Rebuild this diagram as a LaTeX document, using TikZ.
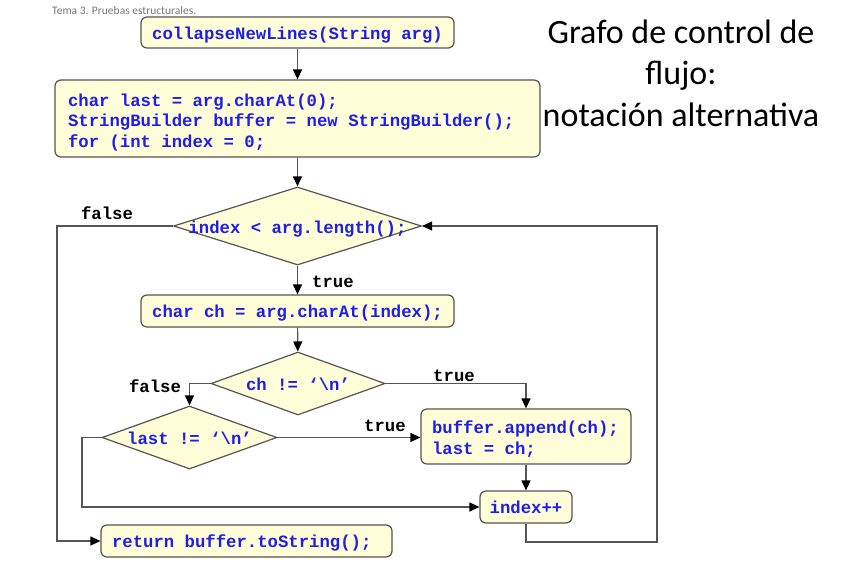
\documentclass[tikz,border=0pt]{standalone}
\usepackage{fontspec}
\setmonofont{Liberation Mono}
\newfontfamily\titlefont{Carlito}
\usetikzlibrary{shapes.geometric,arrows.meta}
\definecolor{codeblue}{RGB}{30,30,235}
\definecolor{boxfill}{RGB}{255,254,216}
\definecolor{edgegray}{RGB}{85,85,85}
\definecolor{hdrgray}{RGB}{120,120,120}
\newcommand{\codefont}{\ttfamily\bfseries\fontsize{17.3}{20.5}\selectfont}
\newcommand{\fixsp}{\spaceskip=0.6em\relax\xspaceskip=0.6em\relax}
\begin{document}
\begin{tikzpicture}[x=1pt,y=-1pt,
  box/.style={draw=edgegray, line width=1.2pt, fill=boxfill, rounded corners=6pt,
    font=\codefont, text=codeblue, inner sep=0pt},
  onebox/.style={box, text height=13.5pt, text depth=0pt},
  dia/.style={diamond, draw=edgegray, line width=1.2pt, fill=boxfill, inner sep=0pt,
    font=\codefont, text=codeblue, text height=14pt, text depth=0pt},
  lab/.style={font=\codefont, text=black, anchor=base, inner sep=0pt},
  ln/.style={draw=edgegray, line width=1.2pt},
  arr/.style={ln, -{Triangle[length=10pt,width=9pt,color=black]}}]
\useasboundingbox (0,0) rectangle (847,581);
\fill[white] (0,0) rectangle (847,581);

\node[font=\titlefont\fontsize{11.5}{13}\selectfont, text=hdrgray, anchor=base west, inner sep=0pt] (hdr) at (52,14) {Tema 3. Pruebas estructurales.};
\node[font=\titlefont\fontsize{34}{41.5}\selectfont, align=center, inner sep=0pt] (title) at (681,73) {Grafo de control de\\flujo:\\notación alternativa};

\node[onebox, minimum width=313pt, minimum height=31pt] (start) at (297.5,32.5) {collapseNewLines(String arg)};
\node[box, text width=459pt, inner xsep=13pt, minimum height=77pt, align=left] (init) at (297.5,118.5)
  {\fixsp\rule{0pt}{20pt}char last = arg.charAt(0);\\StringBuilder buffer = new StringBuilder();\\for (int index = 0;};
\node[dia, minimum width=248pt, minimum height=78pt] (d1) at (297.5,226) {\makebox[0pt]{index < arg.length();}};
\node[onebox, minimum width=313pt, minimum height=32pt] (b3) at (297.5,311) {char ch = arg.charAt(index);};
\node[dia, minimum width=174pt, minimum height=63pt] (d2) at (298,383.5) {\makebox[0pt]{ch != ‘\textbackslash n’}};
\node[dia, minimum width=175pt, minimum height=63pt] (d3) at (189.5,437.5) {\makebox[0pt]{last != ‘\textbackslash n’}};
\node[box, text width=188pt, inner xsep=11pt, minimum height=55pt, align=left] (b4) at (526,436.5)
  {\fixsp\rule{0pt}{18pt}buffer.append(ch);\\last = ch;};
\node[onebox, minimum width=92pt, minimum height=32pt] (b5) at (526,507) {index++};
\node[onebox, text width=269pt, inner xsep=11pt, minimum height=32pt, align=left] (b6) at (246.5,541) {\fixsp return buffer.toString();};

\coordinate (c1) at (57,541);
\coordinate (c3) at (82,507);
\coordinate (c5) at (657,542);

\draw[arr] (start) -- (init);
\draw[arr] (init) -- (d1);
\draw[arr] (d1) -- (b3);
\draw[arr] (b3) -- (d2);
\draw[arr] (d2.west) -| (d3.north);
\draw[arr] (d2.east) -| (b4.north);
\draw[arr] (d3.east) -- (d3.east -| b4.west);
\draw[arr] (d3.west) -| (c3) -- (b5.west);
\draw[arr] (b4) -- (b5);
\draw[arr] (d1.west) -| (c1) -- (b6.west);
\draw[arr] (b5.south) |- (c5) |- (d1.east);

\node[lab] (lf1) at (107,219) {false};
\node[lab] (lt1) at (333,287) {true};
\node[lab] (lf2) at (155,392) {false};
\node[lab] (lt2) at (454,381) {true};
\node[lab] (lt3) at (385,431) {true};
\end{tikzpicture}
\end{document}
